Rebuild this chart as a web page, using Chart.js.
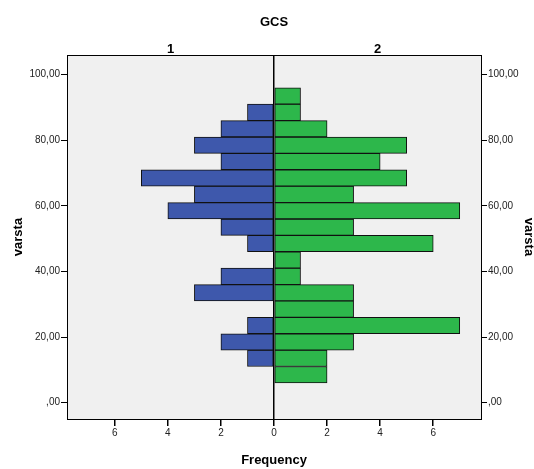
<!DOCTYPE html>
<html><head><meta charset="utf-8">
<script src="https://cdn.jsdelivr.net/npm/chart.js@4/dist/chart.umd.min.js"></script>
<style>html,body{margin:0;padding:0;background:#fff}#wrap{width:534px;height:469px;position:relative}</style>
</head><body><div id="wrap"><canvas id="c"></canvas></div>
<script>
// Age bins (varsta), 5 units wide, given by their centres (low -> high)
const binCenters = [8.5, 13.5, 18.5, 23.5, 28.5, 33.5, 38.5, 43.5, 48.5, 53.5, 58.5, 63.5, 68.5, 73.5, 78.5, 83.5, 88.5, 93.5];
// Frequencies per bin for GCS group 1 (left, blue) and group 2 (right, green)
const group1 = [0, 1, 2, 1, 0, 3, 2, 0, 1, 2, 4, 3, 5, 2, 3, 2, 1, 0];
const group2 = [2, 2, 3, 7, 3, 3, 1, 1, 6, 3, 7, 3, 5, 4, 5, 2, 1, 1];
const groupLabels = ['1', '2'];
const yTicks = [0, 20, 40, 60, 80, 100];
const xTicks = [-6, -4, -2, 0, 2, 4, 6];

const FONT = "'Liberation Sans', Arial, sans-serif";
const fmtY = v => v === 0 ? ',00' : v.toFixed(2).replace('.', ',');

const toPoints = (vals, sign) => vals.map((v, i) => ({x: v === 0 ? null : sign * v, y: binCenters[i]}));

const bgPlugin = {
  id: 'plotBg',
  beforeDraw(chart) {
    const {ctx, chartArea: a} = chart;
    ctx.save();
    ctx.fillStyle = '#F0F0F0';
    ctx.fillRect(a.left, a.top, a.right - a.left, a.bottom - a.top);
    ctx.restore();
  }
};

const yBase = () => ({
  type: 'linear', min: -5, max: 106, offset: false,
  afterBuildTicks: ax => { ax.ticks = yTicks.map(v => ({value: v})); },
  grid: {offset: false, drawOnChartArea: false, tickLength: 6, tickColor: '#000', lineWidth: 1},
  border: {display: true, color: '#000', width: 1},
  ticks: {font: {family: FONT, size: 10}, color: '#222', padding: 1, callback: v => fmtY(v)},
});

new Chart(document.getElementById('c'), {
  type: 'bar',
  data: {
    datasets: [
      {label: groupLabels[0], data: toPoints(group1, -1), backgroundColor: '#3E58AC', borderColor: '#111', borderWidth: 1, borderSkipped: false, grouped: false, categoryPercentage: 1, barPercentage: 1},
      {label: groupLabels[1], data: toPoints(group2, 1), backgroundColor: '#2DB74B', borderColor: '#111', borderWidth: 1, borderSkipped: false, grouped: false, categoryPercentage: 1, barPercentage: 1}
    ]
  },
  options: {
    indexAxis: 'y',
    responsive: true, maintainAspectRatio: false, animation: false,
    layout: {padding: 0},
    plugins: {legend: {display: false}, tooltip: {enabled: false}, title: {display: false}},
    scales: {
      x: {
        type: 'linear', position: 'bottom', min: -7.8, max: 7.8,
        afterBuildTicks: ax => { ax.ticks = xTicks.map(v => ({value: v})); },
        afterFit: s => { s.height = 50; },
        grid: {drawOnChartArea: true, tickLength: 7, tickColor: '#000', lineWidth: 1.5,
               color: c => (c.tick && c.tick.value === 0) ? '#000' : 'rgba(0,0,0,0)'},
        border: {display: true, color: '#000', width: 1},
        ticks: {font: {family: FONT, size: 10}, color: '#222', padding: 1, callback: v => String(Math.abs(v))},
        title: {display: true, text: 'Frequency', font: {family: FONT, size: 13, weight: 'bold', lineHeight: 1.2}, color: '#000', padding: {top: 0, bottom: 1}}
      },
      x2: {
        type: 'linear', position: 'top', min: -7.8, max: 7.8,
        afterBuildTicks: ax => { ax.ticks = [{value: -3.9}, {value: 3.9}]; },
        afterFit: s => { s.height = 55; },
        grid: {display: false},
        border: {display: true, color: '#000', width: 1},
        ticks: {font: {family: FONT, size: 13, weight: 'bold'}, color: '#000', padding: -10, callback: v => v < 0 ? groupLabels[0] : groupLabels[1]},
        title: {display: true, text: 'GCS', font: {family: FONT, size: 13, weight: 'bold', lineHeight: 1.2}, color: '#000', padding: {top: 15, bottom: 0}}
      },
      y: Object.assign(yBase(), {
        position: 'left',
        afterFit: s => { s.width = 67; },
        title: {display: true, text: 'varsta', font: {family: FONT, size: 13, weight: 'bold', lineHeight: 1.2}, color: '#000', padding: {top: 11, bottom: 0}}
      }),
      y2: Object.assign(yBase(), {
        position: 'right',
        afterFit: s => { s.width = 53; },
        title: {display: true, text: 'varsta', font: {family: FONT, size: 13, weight: 'bold', lineHeight: 0.8}, color: '#000', padding: {top: 0, bottom: 0}}
      })
    }
  },
  plugins: [bgPlugin]
});
</script>
</body></html>
